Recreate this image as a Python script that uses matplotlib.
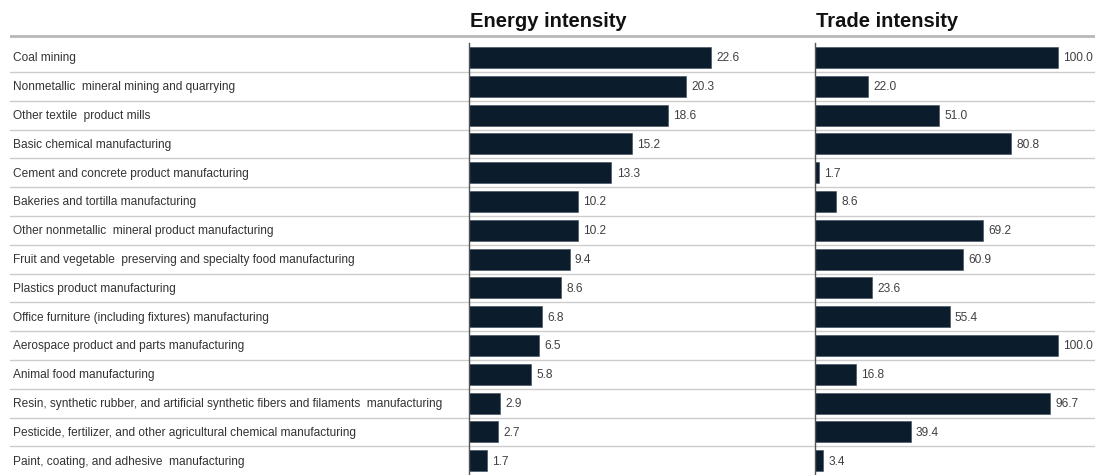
import matplotlib
matplotlib.use("Agg")
import matplotlib.pyplot as plt

industries = [
    "Coal mining",
    "Nonmetallic  mineral mining and quarrying",
    "Other textile  product mills",
    "Basic chemical manufacturing",
    "Cement and concrete product manufacturing",
    "Bakeries and tortilla manufacturing",
    "Other nonmetallic  mineral product manufacturing",
    "Fruit and vegetable  preserving and specialty food manufacturing",
    "Plastics product manufacturing",
    "Office furniture (including fixtures) manufacturing",
    "Aerospace product and parts manufacturing",
    "Animal food manufacturing",
    "Resin, synthetic rubber, and artificial synthetic fibers and filaments  manufacturing",
    "Pesticide, fertilizer, and other agricultural chemical manufacturing",
    "Paint, coating, and adhesive  manufacturing",
]
energy_intensity = [22.6, 20.3, 18.6, 15.2, 13.3, 10.2, 10.2, 9.4, 8.6, 6.8, 6.5, 5.8, 2.9, 2.7, 1.7]
trade_intensity = [100.0, 22.0, 51.0, 80.8, 1.7, 8.6, 69.2, 60.9, 23.6, 55.4, 100.0, 16.8, 96.7, 39.4, 3.4]
panel_titles = ["Energy intensity", "Trade intensity"]

plt.rcParams["font.family"] = ["Liberation Sans", "DejaVu Sans"]

W, H = 1095, 475
fig = plt.figure(figsize=(W / 100, H / 100), dpi=100)

BAR_COLOR = "#0b1c2c"
TEXT_COLOR = "#333333"
SEP_COLOR = "#cccccc"

n = len(industries)
row0, pitch = 57.5, 28.8          # centre of first row and row spacing (px)
top_px, bot_px = 30, H            # vertical extent shared by all axes (px)
ylim = ((bot_px - row0) / pitch, (top_px - row0) / pitch)


def add_axes_px(x0, x1):
    return fig.add_axes([x0 / W, 1 - bot_px / H, (x1 - x0) / W, (bot_px - top_px) / H])


# background axes: row labels, separators and header rule
ax_bg = add_axes_px(10, W)
ax_bg.set_xlim(0, 1)
ax_bg.set_ylim(*ylim)
ax_bg.axis("off")
for i in range(n - 1):
    ax_bg.axhline(i + 0.5, color=SEP_COLOR, lw=1.0, zorder=0)
ax_bg.axhline((36 - row0) / pitch, color="#b8b8b8", lw=2.0, zorder=0)
for i, name in enumerate(industries):
    ax_bg.text(0.003, i + 0.03, name, va="center", ha="left", fontsize=8.6, color=TEXT_COLOR)

panels = [
    (469, 780, 10.71, energy_intensity),
    (815, W, 2.43, trade_intensity),
]
for (x0, x1, px_per_unit, values), title in zip(panels, panel_titles):
    ax = add_axes_px(x0, x1)
    ax.patch.set_alpha(0)
    ax.set_xlim(0, (x1 - x0) / px_per_unit)
    ax.set_ylim(*ylim)
    ax.axis("off")
    ys = list(range(n))
    ax.barh(ys, values, height=0.73, color=BAR_COLOR, edgecolor="#3a4a58", linewidth=0.4, zorder=2)
    ax.plot([0, 0], [-0.5, n - 0.5], color="#555555", lw=1.0, zorder=3, clip_on=False)
    for y, v in zip(ys, values):
        ax.annotate(f"{v:.1f}", (v, y + 0.03), xytext=(3.8, 0), textcoords="offset points",
                    va="center", ha="left", fontsize=8.6, color="#404040")
    fig.text((x0 + 1) / W, 1 - 27 / H, title, fontsize=14.5, fontweight="bold",
             color="#111111", ha="left", va="baseline")

fig.savefig("out.png", dpi=100)
